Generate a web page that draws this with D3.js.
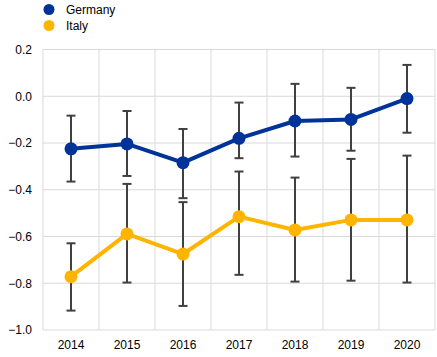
<!DOCTYPE html>
<html><head><meta charset="utf-8">
<script src="https://cdn.jsdelivr.net/npm/d3@7/dist/d3.min.js"></script>
<style>body{margin:0;background:#fff;}svg{display:block;font-family:Arial,"Liberation Sans",sans-serif;}</style>
</head><body><div id="chart"></div>
<script>
const years = ["2014","2015","2016","2017","2018","2019","2020"];
const germany = [-0.225,-0.204,-0.284,-0.180,-0.106,-0.099,-0.010];
const germanyLow = [-0.365,-0.341,-0.436,-0.265,-0.258,-0.233,-0.156];
const germanyHigh = [-0.083,-0.063,-0.140,-0.027,0.053,0.036,0.134];
const italy = [-0.772,-0.589,-0.675,-0.515,-0.572,-0.529,-0.529];
const italyLow = [-0.917,-0.797,-0.897,-0.764,-0.793,-0.789,-0.797];
const italyHigh = [-0.629,-0.375,-0.453,-0.322,-0.348,-0.268,-0.254];
const yTicks = [0.2,0.0,-0.2,-0.4,-0.6,-0.8,-1.0];
const seriesNames = ["Germany","Italy"];
const colors = ["#003399","#ffb400"];

const W=437,H=357;
const svg=d3.select("#chart").append("svg").attr("width",W).attr("height",H);
const x=d3.scaleBand().domain(years).range([43,435]);
const y=d3.scaleLinear().domain([-1,0.2]).range([330,49.5]);

// grid
const g=svg.append("g");
g.selectAll(".hg").data(yTicks).enter().append("line")
 .attr("x1",43).attr("x2",435).attr("y1",d=>y(d)).attr("y2",d=>y(d))
 .attr("stroke","#d9d9d9").attr("stroke-width",1);
const vx=years.map(d=>x(d)).concat([x.range()[1]]);
g.selectAll(".vg").data(vx).enter().append("line")
 .attr("x1",d=>d).attr("x2",d=>d).attr("y1",y(0.2)).attr("y2",y(-1))
 .attr("stroke","#d9d9d9").attr("stroke-width",1);

// axes
const yAxis=d3.axisLeft(y).tickValues(yTicks).tickSize(0).tickPadding(10).tickFormat(d3.format(".1f"));
const ya=svg.append("g").attr("transform","translate(43,0)").call(yAxis);
ya.select(".domain").remove();
ya.selectAll("text").attr("font-size",12).attr("fill","#000").attr("font-family","Arial, 'Liberation Sans', sans-serif").attr("dx",-1);
const xAxis=d3.axisBottom(x).tickSize(0).tickPadding(10);
const xa=svg.append("g").attr("transform","translate(0,330)").call(xAxis);
xa.select(".domain").remove();
xa.selectAll("text").attr("font-size",12).attr("fill","#000").attr("font-family","Arial, 'Liberation Sans', sans-serif");

const cx=d=>x(d)+x.bandwidth()/2;
const series=[{v:germany,lo:germanyLow,hi:germanyHigh},{v:italy,lo:italyLow,hi:italyHigh}];

// error bars
series.forEach(s=>{
  const eb=svg.append("g").attr("stroke","#404040").attr("stroke-width",2);
  years.forEach((yr,i)=>{
    eb.append("line").attr("x1",cx(yr)).attr("x2",cx(yr)).attr("y1",y(s.lo[i])).attr("y2",y(s.hi[i]));
    eb.append("line").attr("x1",cx(yr)-4.5).attr("x2",cx(yr)+4.5).attr("y1",y(s.lo[i])).attr("y2",y(s.lo[i]));
    eb.append("line").attr("x1",cx(yr)-4.5).attr("x2",cx(yr)+4.5).attr("y1",y(s.hi[i])).attr("y2",y(s.hi[i]));
  });
});
// lines and markers
series.forEach((s,k)=>{
  const line=d3.line().x((d,i)=>cx(years[i])).y(d=>y(d));
  svg.append("path").datum(s.v).attr("d",line).attr("fill","none").attr("stroke",colors[k]).attr("stroke-width",4).attr("stroke-linejoin","round");
  svg.selectAll(null).data(s.v).enter().append("circle")
   .attr("cx",(d,i)=>cx(years[i])).attr("cy",d=>y(d)).attr("r",6.5).attr("fill",colors[k]);
});

// legend
const lg=svg.append("g");
seriesNames.forEach((n,i)=>{
  lg.append("circle").attr("cx",49).attr("cy",9.5+i*16).attr("r",5.5).attr("fill",colors[i]);
  lg.append("text").attr("x",66).attr("y",9.5+i*16).attr("dy","0.35em").attr("font-size",12).attr("fill","#000").text(n);
});
</script></body></html>
